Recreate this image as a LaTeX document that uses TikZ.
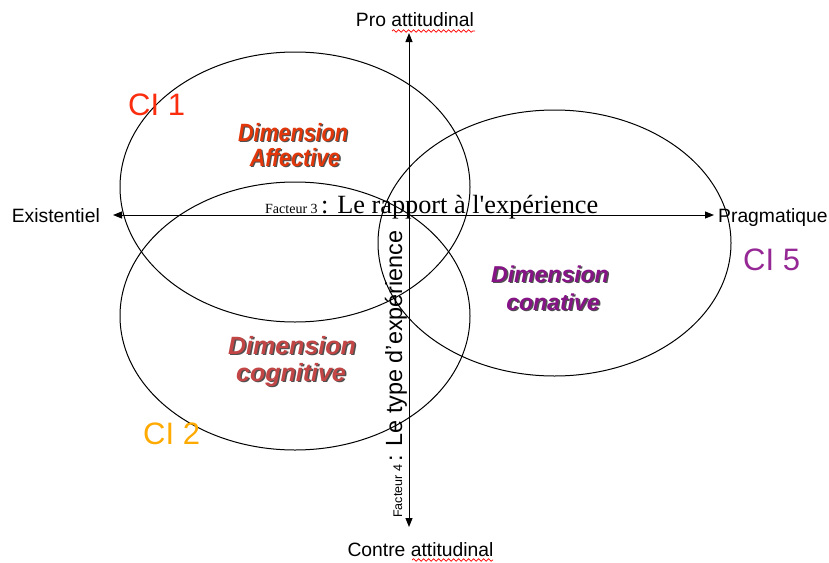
\documentclass[tikz,border=0pt]{standalone}
\usepackage{fontspec}
\setmainfont{Liberation Sans}
\newfontfamily\serifA{Liberation Serif}
\usetikzlibrary{shapes.geometric,arrows.meta,decorations.pathmorphing}
\definecolor{ciA}{RGB}{250,45,15}
\definecolor{ciB}{RGB}{255,170,0}
\definecolor{ciE}{RGB}{150,40,150}
\definecolor{affcol}{RGB}{225,55,10}
\definecolor{concol}{RGB}{135,20,135}
\definecolor{cogcol}{RGB}{195,70,70}
\definecolor{shcol}{RGB}{80,80,80}
\newcommand\shlabel[5]{% name, x, y, style, text
  \node[#4, text=shcol, anchor=base, xshift=1.5pt, yshift=-1.5pt] (#1s) at (#2,#3) {#5};
  \node[#4, anchor=base] (#1) at (#2,#3) {#5};}
\begin{document}
\begin{tikzpicture}[x=1pt,y=-1pt,
  ell/.style={ellipse, draw, line width=1pt, inner sep=0pt},
  axis/.style={line width=1pt, {Triangle[length=9pt,width=7pt]}-{Triangle[length=9pt,width=7pt]}},
  lab/.style={font=\fontsize{19.3}{22}\selectfont, inner sep=0pt},
  cilab/.style={font=\fontsize{31}{34}\selectfont, inner sep=0pt, anchor=base west},
  dimA/.style={font=\fontsize{25}{28}\selectfont\bfseries\itshape, inner sep=0pt, xscale=0.86, text=affcol},
  dimC/.style={font=\fontsize{23}{26}\selectfont\bfseries\itshape, inner sep=0pt, text=concol},
  dimG/.style={font=\fontsize{25}{28}\selectfont\bfseries\itshape, inner sep=0pt, text=cogcol},
  wavy/.style={red, line width=0.7pt, decorate, decoration={snake, segment length=5pt, amplitude=1.3pt}}]
\useasboundingbox (0,0) rectangle (829,562);
\fill[white] (0,0) rectangle (829,562);

% ellipses
\node[ell, minimum width=350pt, minimum height=270pt] (e1) at (295,187) {};
\node[ell, minimum width=350pt, minimum height=268pt] (e2) at (295,316) {};
\node[ell, minimum width=353pt, minimum height=266pt] (e5) at (554.5,243) {};

% axes
\coordinate (xl) at (113,215);
\coordinate (xr) at (714,215);
\coordinate (yt) at (409,33);
\coordinate (yb) at (409,527);
\draw[axis] (xl) -- (xr);
\draw[axis] (yt) -- (yb);

% axis labels
\node[lab, anchor=base east] (exist) at (100,222) {Existentiel};
\node[lab, anchor=base west] (prag) at (718,222) {Pragmatique};
\node[lab, anchor=base] (pro) at (415,26) {Pro attitudinal};
\node[lab, anchor=base] (contre) at (420.5,556) {Contre attitudinal};
\coordinate (w1a) at (392,31); \coordinate (w1b) at (475,31);
\coordinate (w2a) at (412,560); \coordinate (w2b) at (493,560);
\draw[wavy] (w1a) -- (w1b);
\draw[wavy] (w2a) -- (w2b);

% CI labels
\node[cilab, text=ciA] (ci1) at (128,115) {CI 1};
\node[cilab, text=ciB] (ci2) at (143,444) {CI 2};
\node[cilab, text=ciE] (ci5) at (743,270) {CI 5};

% dimension labels with shadow
\shlabel{affA}{293}{141}{dimA}{Dimension}
\shlabel{affB}{295}{166}{dimA}{Affective}
\shlabel{conA}{550}{282}{dimC}{Dimension}
\shlabel{conB}{553}{310}{dimC}{conative}
\shlabel{cogA}{292}{354}{dimG}{Dimension}
\shlabel{cogB}{291}{381}{dimG}{cognitive}

% factor labels
\node[inner sep=0pt, anchor=base west] (f3) at (265,213)
  {\serifA\fontsize{14}{16}\selectfont Facteur 3 \fontsize{26.3}{29}\selectfont: Le rapport à l\char"27 expérience};
\node[inner sep=0pt, anchor=base west, rotate=90] (f4) at (402,518)
  {\fontsize{12.5}{14}\selectfont Facteur 4 \fontsize{23.4}{26}\selectfont: Le type d\char"27 expérience};
\end{tikzpicture}
\end{document}
